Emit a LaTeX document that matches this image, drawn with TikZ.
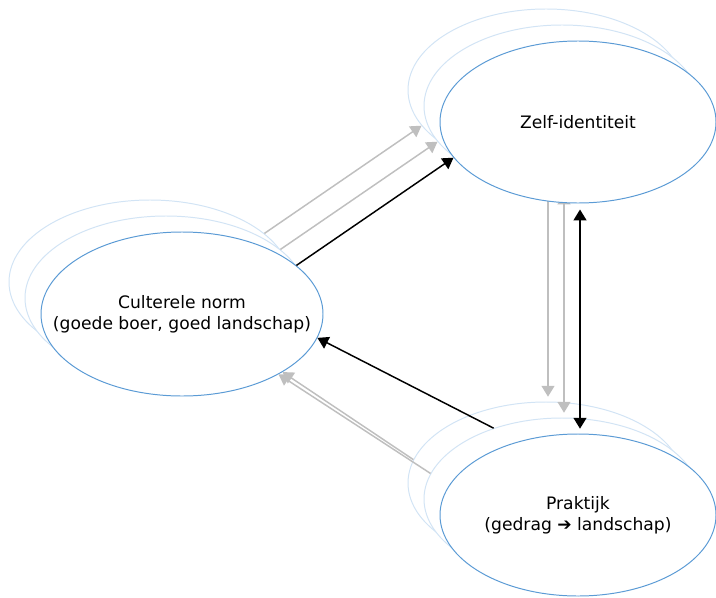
\documentclass[tikz,border=0pt]{standalone}
\usepackage{fontspec}
\setmainfont{DejaVu Sans}
\usetikzlibrary{arrows.meta,shapes.geometric}
\definecolor{rimblue}{RGB}{91,155,213}
\definecolor{paleblue}{RGB}{210,228,245}
\definecolor{palegray}{RGB}{191,191,191}
\tikzset{
	blob/.style={ellipse, draw=rimblue, fill=white, line width=0.7pt, inner sep=0pt, minimum width=6.9cm, minimum height=4.05cm},
	wide/.style={minimum width=7.05cm, minimum height=4.1cm},
	ghost/.style={blob, draw=paleblue},
	link/.style={line width=1.05pt, ->},
	ghostlink/.style={link, color=palegray},
	blobtext/.style={align=center, font=\fontsize{12.2}{15}\selectfont}
}

\begin{document}
\begin{tikzpicture}[>={Triangle[length=2.7mm,width=3.2mm]}]
			%%%%% START %%%%%
			\useasboundingbox (0,0) rectangle (17.9,-14.925);
			
			% achterste laag
			\node[ghost, wide] (norm2) at (3.75,-7.05) {};
			\node[ghost] (zelf2) at (13.65,-2.25) {};
			\node[ghost] (praktijk2) at (13.65,-12.075) {};
			\draw[ghostlink] (norm2.23) -- (zelf2.196);
			\draw[ghostlink, <->] ([xshift=0.05cm,yshift=-0.15cm]zelf2.south) -- ([xshift=0.05cm,yshift=0.12cm]praktijk2.north);
			
			% middelste laag
			\node[ghost, wide] (norm1) at (4.15,-7.45) {};
			\node[ghost] (zelf1) at (14.05,-2.65) {};
			\node[ghost] (praktijk1) at (14.05,-12.475) {};
			\draw[ghostlink] (norm1.23) -- (zelf1.196);
			\draw[ghostlink, <->] ([xshift=0.05cm,yshift=-0.15cm]zelf1.south) -- ([xshift=0.05cm,yshift=0.12cm]praktijk1.north);
			
			% voorste laag
			\node[blob, wide] (norm) at (4.55,-7.85) {};
			\node[blob] (zelf) at (14.45,-3.05) {};
			\draw[ghostlink] (praktijk2.170) -- (norm.-30);
			\draw[ghostlink] (praktijk1.169) -- (norm.-32);
			\node[blob] (praktijk) at (14.45,-12.875) {};
			
			\node[blobtext] (normtext) at (norm) {Culterele norm\\(goede boer, goed landschap)};
			\node[blobtext] (zelftext) at (zelf) {Zelf-identiteit};
			\node[blobtext] (praktijktext) at (praktijk) {Praktijk\\(gedrag ➔ landschap)};
			
			\draw[link] (norm.23) -- (zelf.196);
			\draw[link, <->] ([xshift=0.05cm,yshift=-0.15cm]zelf.south) -- ([xshift=0.05cm,yshift=0.12cm]praktijk.north);
			\draw[link] (praktijk1.134) -- (norm.-10);
			%%%%% END %%%%%
\end{tikzpicture}
\end{document}
